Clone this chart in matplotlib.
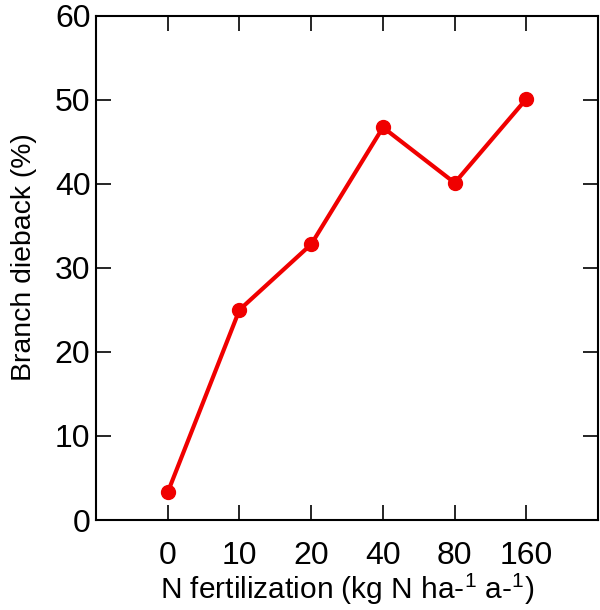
import numpy as np
import matplotlib.pyplot as plt

plt.rcParams['font.family'] = 'Liberation Sans'
plt.rcParams['mathtext.fontset'] = 'custom'
plt.rcParams['mathtext.rm'] = 'Liberation Sans'

# data
levels = ['0', '10', '20', '40', '80', '160']
dieback = [3.3, 25.0, 32.8, 46.7, 40.1, 50.1]

fig = plt.figure(figsize=(6, 6.1), dpi=100)
ax = fig.add_axes([0.16, 0.1475, 0.837, 0.827])

x = np.arange(len(levels))
ax.plot(x, dieback, color='#f00000', linewidth=3, marker='o', markersize=10)

ax.set_xlim(-1, 6)
ax.set_ylim(0, 60)
ax.set_xticks(x)
ax.set_xticklabels(levels)
ax.set_yticks(np.arange(0, 61, 10))

ax.tick_params(direction='in', length=11, width=1.2, labelsize=23,
               top=True, right=True)
ax.tick_params(axis='x', pad=15)
ax.tick_params(axis='y', pad=4)
for s in ax.spines.values():
    s.set_linewidth(1.5)

ax.set_xlabel('N fertilization (kg N ha-$^{1}$ a-$^{1}$)', fontsize=21.5, labelpad=0)
ax.set_ylabel('Branch dieback (%)', fontsize=20.4)
ax.yaxis.set_label_coords(-0.118, 0.522)

plt.savefig('out.png', dpi=100)
